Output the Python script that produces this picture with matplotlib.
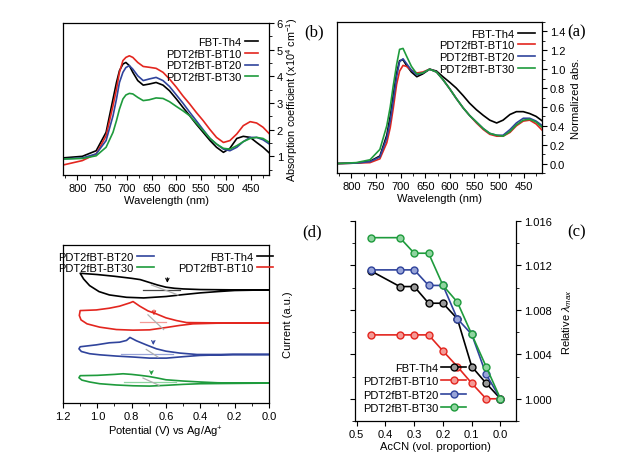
import matplotlib
matplotlib.use("Agg")
import matplotlib.pyplot as plt
from matplotlib.ticker import MultipleLocator

plt.rcParams['font.family'] = ['Liberation Sans', 'DejaVu Sans']
plt.rcParams['font.size'] = 8
plt.rcParams['mathtext.fontset'] = 'custom'
plt.rcParams['mathtext.rm'] = 'Liberation Sans'
plt.rcParams['mathtext.it'] = 'Liberation Sans:italic'

names = ["FBT-Th4", "PDT2fBT-BT10", "PDT2fBT-BT20", "PDT2fBT-BT30"]
colors = ["#000000", "#e3261f", "#30449c", "#1e9b3c"]
light = ["#9a9a9a", "#f49a96", "#98a4d8", "#8fd4a0"]

# ---------- (a) normalized absorption ----------
wl = [830, 790, 762, 742, 728, 721, 715, 708, 702, 695, 688, 678, 667, 655, 641, 627,
      614, 600, 587, 573, 560, 546, 532, 519, 505, 492, 478, 465, 451, 438, 425, 412]
norm_th4 = [0.0, 0.005, 0.025, 0.08, 0.30, 0.50, 0.72, 0.96, 1.09, 1.10, 1.04, 0.97, 0.92, 0.95, 1.0, 0.98,
            0.92, 0.86, 0.80, 0.72, 0.64, 0.57, 0.51, 0.46, 0.43, 0.46, 0.52, 0.55, 0.55, 0.53, 0.50, 0.45]
norm_bt10 = [0.0, 0.005, 0.01, 0.05, 0.22, 0.38, 0.58, 0.84, 0.98, 1.04, 1.03, 0.99, 0.96, 0.97, 1.0, 0.97,
             0.89, 0.79, 0.69, 0.59, 0.51, 0.43, 0.36, 0.31, 0.29, 0.29, 0.33, 0.40, 0.45, 0.46, 0.42, 0.35]
norm_bt20 = [0.0, 0.005, 0.02, 0.07, 0.27, 0.45, 0.66, 0.92, 1.08, 1.11, 1.06, 0.99, 0.94, 0.96, 1.0, 0.97,
             0.89, 0.79, 0.69, 0.59, 0.51, 0.44, 0.37, 0.32, 0.30, 0.30, 0.36, 0.43, 0.48, 0.48, 0.45, 0.40]
norm_bt30 = [0.0, 0.01, 0.04, 0.15, 0.40, 0.60, 0.82, 1.05, 1.21, 1.22, 1.14, 1.03, 0.95, 0.96, 1.0, 0.97,
             0.89, 0.79, 0.69, 0.59, 0.51, 0.44, 0.37, 0.32, 0.30, 0.29, 0.34, 0.41, 0.46, 0.47, 0.44, 0.38]

# ---------- (b) absorption coefficient (x10^4 cm^-1) ----------
abs_th4 = [0.94, 1.0, 1.21, 1.9, 3.15, 3.77, 4.21, 4.46, 4.52, 4.4, 4.15, 3.84, 3.67, 3.71, 3.77, 3.67,
           3.46, 3.15, 2.84, 2.52, 2.21, 1.9, 1.59, 1.34, 1.15, 1.3, 1.67, 1.75, 1.71, 1.52, 1.34, 1.12]
abs_bt10 = [0.67, 0.84, 1.09, 1.77, 2.9, 3.52, 4.15, 4.59, 4.71, 4.77, 4.71, 4.52, 4.37, 4.34, 4.3, 4.15,
            3.9, 3.59, 3.27, 2.96, 2.65, 2.34, 2.0, 1.71, 1.52, 1.59, 1.84, 2.15, 2.3, 2.25, 2.09, 1.84]
abs_bt20 = [0.9, 0.94, 1.09, 1.59, 2.52, 3.15, 3.77, 4.15, 4.33, 4.4, 4.27, 4.02, 3.84, 3.9, 3.96, 3.84,
            3.62, 3.3, 3.0, 2.65, 2.34, 2.0, 1.67, 1.46, 1.27, 1.21, 1.34, 1.55, 1.71, 1.71, 1.62, 1.46]
abs_bt30 = [0.9, 0.92, 1.02, 1.34, 1.9, 2.34, 2.77, 3.15, 3.3, 3.36, 3.34, 3.21, 3.09, 3.12, 3.19, 3.17,
            3.05, 2.87, 2.71, 2.52, 2.25, 1.96, 1.67, 1.46, 1.3, 1.27, 1.4, 1.55, 1.67, 1.71, 1.67, 1.52]

# ---------- (c) relative lambda max vs AcCN ----------
accn = [0.45, 0.35, 0.30, 0.25, 0.20, 0.15, 0.10, 0.05, 0.0]
rel_th4 = [1.0115, 1.0101, 1.0101, 1.0086, 1.0086, 1.0072, 1.0029, 1.0014, 1.0000]
rel_bt10 = [1.00575, 1.00575, 1.00575, 1.00575, 1.0043, 1.0029, 1.0014, 1.0000, 1.0000]
rel_bt20 = [1.0116, 1.0116, 1.0116, 1.0102, 1.0102, 1.0072, 1.0058, 1.0022, 1.0000]
rel_bt30 = [1.0145, 1.0145, 1.0131, 1.0131, 1.0102, 1.0087, 1.0058, 1.0029, 1.0000]

# ---------- (d) cyclic voltammetry (a.u.) ----------
cv_th4_v = [0.0, 0.2, 0.4, 0.5, 0.55, 0.6, 0.65, 0.7, 0.75, 0.8, 0.9, 1.0, 1.1,
            1.08, 1.045, 0.99, 0.93, 0.83, 0.73, 0.6, 0.5, 0.4, 0.3, 0.2, 0.0]
cv_th4_i = [7.16, 7.16, 7.18, 7.22, 7.26, 7.33, 7.47, 7.64, 7.81, 7.89, 8.02, 8.13, 8.21,
            7.85, 7.43, 7.05, 6.84, 6.69, 6.65, 6.74, 6.86, 6.97, 7.05, 7.12, 7.16]
cv_bt10_v = [0.0, 0.3, 0.48, 0.54, 0.6, 0.656, 0.705, 0.753, 0.792, 0.81, 0.87, 0.93, 1.006, 1.1,
             1.105, 1.095, 1.06, 0.986, 0.889, 0.792, 0.695, 0.598, 0.52, 0.443, 0.307, 0.0]
cv_bt10_i = [5.07, 5.07, 5.09, 5.22, 5.39, 5.64, 5.83, 6.13, 6.42, 6.34, 6.13, 6.0, 5.89, 5.85,
             5.54, 5.26, 5.01, 4.80, 4.65, 4.61, 4.63, 4.78, 4.91, 5.01, 5.05, 5.07]
cv_bt20_v = [0.0, 0.2, 0.42, 0.52, 0.6, 0.656, 0.715, 0.773, 0.81, 0.83, 0.87, 0.93, 1.006, 1.1,
             1.107, 1.093, 1.045, 0.986, 0.889, 0.792, 0.695, 0.598, 0.501, 0.404, 0.21, 0.0]
cv_bt20_i = [3.07, 3.07, 3.07, 3.16, 3.28, 3.43, 3.68, 3.94, 4.15, 3.96, 3.85, 3.81, 3.68, 3.56,
             3.43, 3.26, 3.12, 3.05, 2.97, 2.91, 2.84, 2.84, 2.93, 3.01, 3.07, 3.07]
cv_bt30_v = [0.0, 0.2, 0.3, 0.4, 0.5, 0.6, 0.65, 0.7, 0.75, 0.8, 0.85, 0.9, 1.0, 1.1,
             1.107, 1.09, 1.045, 0.986, 0.889, 0.792, 0.695, 0.598, 0.5, 0.4, 0.2, 0.0]
cv_bt30_i = [1.26, 1.26, 1.28, 1.33, 1.39, 1.47, 1.58, 1.68, 1.75, 1.81, 1.85, 1.81, 1.75, 1.73,
             1.60, 1.45, 1.33, 1.22, 1.14, 1.09, 1.07, 1.12, 1.18, 1.22, 1.24, 1.26]
# onset construction lines: baseline (v1, v2, i), tangent (v1, i1, v2, i2), arrow (v, i_top, i_tip)
onset_base = [(0.734, 0.52, 7.18), (0.753, 0.598, 5.12), (0.86, 0.56, 3.09), (0.847, 0.54, 1.33)]
onset_tan = [(0.685, 7.47, 0.53, 6.84), (0.705, 5.58, 0.614, 4.65), (0.715, 3.39, 0.647, 2.91),
             (0.734, 1.58, 0.641, 1.12)]
onset_arrow = [(0.592, 8.10, 7.43), (0.67, 6.06, 5.37), (0.674, 4.10, 3.49), (0.685, 2.17, 1.58)]

fig = plt.figure(figsize=(6.22, 4.64), dpi=100)
W, H = 622.0, 464.0
def box(x0, y0, x1, y1):
    return [x0 / W, 1 - y1 / H, (x1 - x0) / W, (y1 - y0) / H]

axb = fig.add_axes(box(63, 24, 269, 176))
axa = fig.add_axes(box(337, 23, 542, 174))
axd = fig.add_axes(box(63, 246, 269, 404))
axc = fig.add_axes(box(355, 222, 516, 422))

lw = 1.2
# (a)
for y, c, n in zip([norm_th4, norm_bt10, norm_bt20, norm_bt30], colors, names):
    axa.plot(wl, y, color=c, lw=lw, label=n)
axa.set_xlim(829, 413)
axa.set_ylim(-0.1, 1.5)
axa.yaxis.tick_right()
axa.yaxis.set_label_position('right')
axa.set_yticks([0.0, 0.2, 0.4, 0.6, 0.8, 1.0, 1.2, 1.4])
axa.yaxis.set_minor_locator(MultipleLocator(0.1))
axa.set_xticks([800, 750, 700, 650, 600, 550, 500, 450])
axa.xaxis.set_minor_locator(MultipleLocator(25))
axa.set_xlabel("Wavelength (nm)", labelpad=2)
axa.set_ylabel("Normalized abs.", labelpad=4)
axa.legend(loc='upper right', frameon=False, markerfirst=False, handlelength=1.6,
           borderaxespad=0.2, labelspacing=0.15, fontsize=8, handletextpad=0.3)

# (b)
for y, c, n in zip([abs_th4, abs_bt10, abs_bt20, abs_bt30], colors, names):
    axb.plot(wl, y, color=c, lw=lw, label=n)
axb.set_xlim(829, 413)
axb.set_ylim(0.3, 6.0)
axb.yaxis.tick_right()
axb.yaxis.set_label_position('right')
axb.set_yticks([1, 2, 3, 4, 5, 6])
axb.yaxis.set_minor_locator(MultipleLocator(0.5))
axb.set_xticks([800, 750, 700, 650, 600, 550, 500, 450])
axb.xaxis.set_minor_locator(MultipleLocator(25))
axb.set_xlabel("Wavelength (nm)", labelpad=2)
axb.set_ylabel("Absorption coefficient (x10$^4$ cm$^{-1}$)", labelpad=1, fontsize=7.8)
axb.legend(loc='upper right', frameon=False, markerfirst=False, handlelength=1.2,
           borderaxespad=0.6, labelspacing=0.15, fontsize=8, handletextpad=0.3,
           bbox_to_anchor=(1.0, 0.98))

# (c)
for y, c, lc, n in zip([rel_th4, rel_bt10, rel_bt20, rel_bt30], colors, light, names):
    axc.plot(accn, y, color=c, lw=lw, marker='o', ms=5, mfc=lc, mec=c, mew=1.0, label=n)
axc.set_xlim(0.506, -0.054)
axc.set_ylim(0.998, 1.016)
axc.yaxis.tick_right()
axc.yaxis.set_label_position('right')
axc.set_yticks([1.000, 1.004, 1.008, 1.012, 1.016])
axc.set_yticklabels(["1.000", "1.004", "1.008", "1.012", "1.016"])
axc.yaxis.set_minor_locator(MultipleLocator(0.002))
axc.set_xticks([0.0, 0.1, 0.2, 0.3, 0.4, 0.5])
axc.set_xticklabels(["0.0", "0.1", "0.2", "0.3", "0.4", "0.5"])
axc.spines['top'].set_visible(False)
axc.set_xlabel("AcCN (vol. proportion)", labelpad=2)
axc.set_ylabel("Relative $\\lambda_{max}$", labelpad=6)
axc.legend(loc='lower left', frameon=False, markerfirst=False, handlelength=2.2,
           borderaxespad=0.3, labelspacing=0.32, fontsize=8, handletextpad=0.3,
           bbox_to_anchor=(0.0, 0.0))

# (d)
cv = [(cv_th4_v, cv_th4_i), (cv_bt10_v, cv_bt10_i), (cv_bt20_v, cv_bt20_i), (cv_bt30_v, cv_bt30_i)]
lines_d = []
for (v, i), c, lc, n, b, t, a in zip(cv, colors, light, names, onset_base, onset_tan, onset_arrow):
    ln, = axd.plot(v, i, color=c, lw=lw, label=n)
    lines_d.append(ln)
    axd.plot([b[0], b[1]], [b[2], b[2]], color=lc if c != "#000000" else "#444444", lw=0.9)
    axd.plot([t[0], t[2]], [t[1], t[3]], color="#b0b0b0", lw=0.9)
    axd.annotate("", xy=(a[0], a[2]), xytext=(a[0], a[1]),
                 arrowprops=dict(arrowstyle='->', color=c, lw=0.8, mutation_scale=6))
axd.set_xlim(1.2, 0.0)
axd.set_ylim(0, 10)
axd.set_yticks([])
axd.set_xticks([0.0, 0.2, 0.4, 0.6, 0.8, 1.0, 1.2])
axd.set_xticklabels(["0.0", "0.2", "0.4", "0.6", "0.8", "1.0", "1.2"])
axd.xaxis.set_minor_locator(MultipleLocator(0.1))
axd.yaxis.set_label_position('right')
axd.set_ylabel("Current (a.u.)", labelpad=10)
axd.set_xlabel("Potential (V) vs Ag/Ag$^{+}$", labelpad=2)
order = [2, 3, 0, 1]
axd.legend([lines_d[k] for k in order], [names[k] for k in order], loc='upper center',
           ncol=2, frameon=False, markerfirst=False, handlelength=1.5, columnspacing=2.2,
           borderaxespad=0.2, labelspacing=0.15, fontsize=8, handletextpad=0.3)

for ax in (axa, axb, axc, axd):
    ax.tick_params(which='major', direction='out', length=3.5, width=0.8, labelsize=8, pad=2)
    ax.tick_params(which='minor', direction='out', length=2, width=0.6)
    for s in ax.spines.values():
        s.set_linewidth(0.9)
axc.tick_params(axis='y', which='both', left=True, labelleft=False)

serif = ['Liberation Serif', 'DejaVu Serif']
fig.text(314 / W, 1 - 32 / H, "(b)", family=serif, fontsize=12, ha='center', va='center')
fig.text(577 / W, 1 - 32 / H, "(a)", family=serif, fontsize=12, ha='center', va='center')
fig.text(312 / W, 1 - 232 / H, "(d)", family=serif, fontsize=12, ha='center', va='center')
fig.text(577 / W, 1 - 232 / H, "(c)", family=serif, fontsize=12, ha='center', va='center')

fig.savefig("out.png", dpi=100)
